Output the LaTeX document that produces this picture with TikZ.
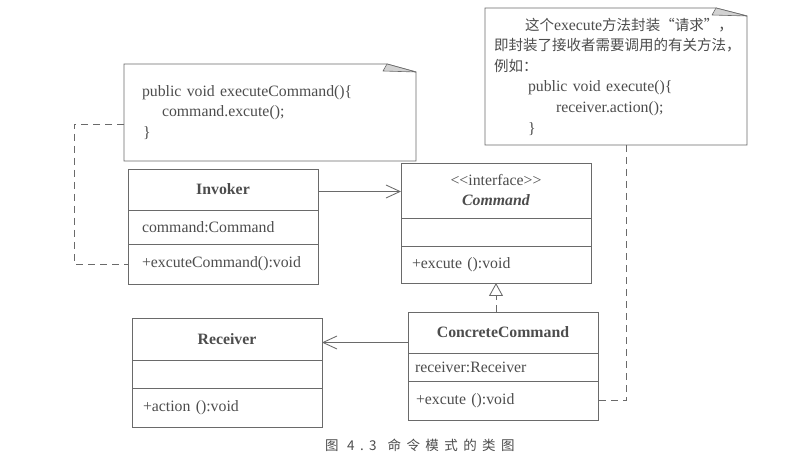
\documentclass[tikz,border=0pt]{standalone}
\usepackage{fontspec}
\usetikzlibrary{arrows.meta,calc}
\newfontfamily\umlfont{Liberation Serif}
\newfontfamily\cjk[RawFeature=+fwid]{Noto Sans CJK SC}
\newfontfamily\capfont[LetterSpace=40]{Noto Sans CJK SC}
\definecolor{lc}{HTML}{6A6A6A}
\definecolor{tc}{HTML}{4D4D4D}
\newcommand\zh[1]{{\cjk\fontsize{14.5bp}{20.6bp}\selectfont #1}}
\tikzset{
  ln/.style={draw=lc, line width=0.85bp},
  comp/.style={ln, anchor=north west, minimum width=190bp, inner ysep=0pt, outer sep=0pt, text=tc,
    font=\umlfont\fontsize{15.8bp}{20bp}\selectfont},
  notebox/.style={anchor=north west, inner ysep=0pt, outer sep=0pt, text=tc, align=left},
  dashl/.style={ln, dash pattern=on 7bp off 5bp},
  assoc/.style={ln, -{Straight Barb[length=14bp,width=13bp]}},
  realz/.style={dashl, -{Triangle[open,length=13bp,width=14bp,fill=white]}},
  foldfill/.style={fill=gray!35, draw=lc, line width=0.6bp, line join=round},
}
\begin{document}
\begin{tikzpicture}[x=1bp,y=-1bp]
\useasboundingbox[fill=white] (0,0) rectangle (796,472);

% notes
\node[notebox, minimum width=292bp, minimum height=97bp, text width=256bp, inner xsep=18bp,
  font=\umlfont\fontsize{15.8bp}{20.5bp}\selectfont] (note1) at (124,64)
  {public void executeCommand()\{\\\hspace*{20bp}command.excute();\\\hspace*{1bp}\}};
\draw[ln] (note1.north west) -- ($(note1.north east)+(-29,0)$) -- ($(note1.north east)+(0,8)$)
  -- (note1.south east) -- (note1.south west) -- cycle;
\filldraw[foldfill] ($(note1.north east)+(-29,0)$) -- ($(note1.north east)+(0,8)$) -- ($(note1.north east)+(-33,7)$) -- cycle;

\node[notebox, minimum width=262bp, minimum height=137bp, text width=244bp, inner xsep=9bp,
  font=\umlfont\fontsize{15.8bp}{20.6bp}\selectfont] (note2) at (485,8)
  {\hspace*{31bp}\zh{这个}execute\zh{方法封装“请求”，}\\
   \zh{即封装了接收者需要调用的有关方法，}\\
   \zh{例如：}\\
   \hspace*{34bp}public void execute()\{\\
   \hspace*{62bp}receiver.action();\\
   \hspace*{34bp}\}};
\draw[ln] (note2.north west) -- ($(note2.north east)+(-31,0)$) -- ($(note2.north east)+(0,8)$)
  -- (note2.south east) -- (note2.south west) -- cycle;
\filldraw[foldfill] ($(note2.north east)+(-31,0)$) -- ($(note2.north east)+(0,8)$) -- ($(note2.north east)+(-35,7)$) -- cycle;

% Invoker
\node[comp, minimum height=41bp] (invT) at (128,169) {\textbf{Invoker}};
\node[comp, minimum height=34bp, text width=162bp, inner xsep=14bp, align=left] (invA) at (128,210) {command:Command};
\node[comp, minimum height=40bp, text width=162bp, inner xsep=14bp, align=left] (invO) at (128,244) {+excuteCommand():void};

% Command
\node[comp, minimum height=55bp, align=center] (cmdT) at (401,163) {<<interface>>\\\textbf{\textit{Command}}};
\node[comp, minimum height=28bp] (cmdA) at (401,218) {};
\node[comp, minimum height=37bp, text width=168bp, inner xsep=11bp, align=left] (cmdO) at (401,246) {+excute ():void};

% Receiver
\node[comp, minimum height=42bp] (recT) at (132,318) {\textbf{Receiver}};
\node[comp, minimum height=28bp] (recA) at (132,360) {};
\node[comp, minimum height=39bp, text width=168bp, inner xsep=11bp, align=left] (recO) at (132,388) {+action ():void};

% ConcreteCommand
\node[comp, minimum height=41bp] (ccT) at (408,312) {\textbf{ConcreteCommand}};
\node[comp, minimum height=28bp, text width=176bp, inner xsep=7bp, align=left] (ccA) at (408,353) {receiver:Receiver};
\node[comp, minimum height=39bp, text width=174bp, inner xsep=8bp, align=left] (ccO) at (408,381) {+excute ():void};

% connectors
\draw[dashl] (note1.north west) ++(0,60) -- ++(-50,0) |- (invO.west);
\draw[assoc] ($(invT.east)+(0,2)$) coordinate (ia) -- (ia -| cmdT.west);
\draw[realz] (cmdO.south |- ccT.north) -- (cmdO.south);
\draw[assoc] ($(ccT.west)+(0,10)$) coordinate (ra) -- (ra -| recT.east);
\draw[dashl] ($(note2.south)+(10,0)$) |- (ccO.east);

% caption
\node[anchor=west, text=tc, inner sep=0pt] (cap) at (325,445)
  {\capfont\fontsize{13.5bp}{16bp}\selectfont 图 4.3\hspace{11bp}命令模式的类图};
\end{tikzpicture}
\end{document}
